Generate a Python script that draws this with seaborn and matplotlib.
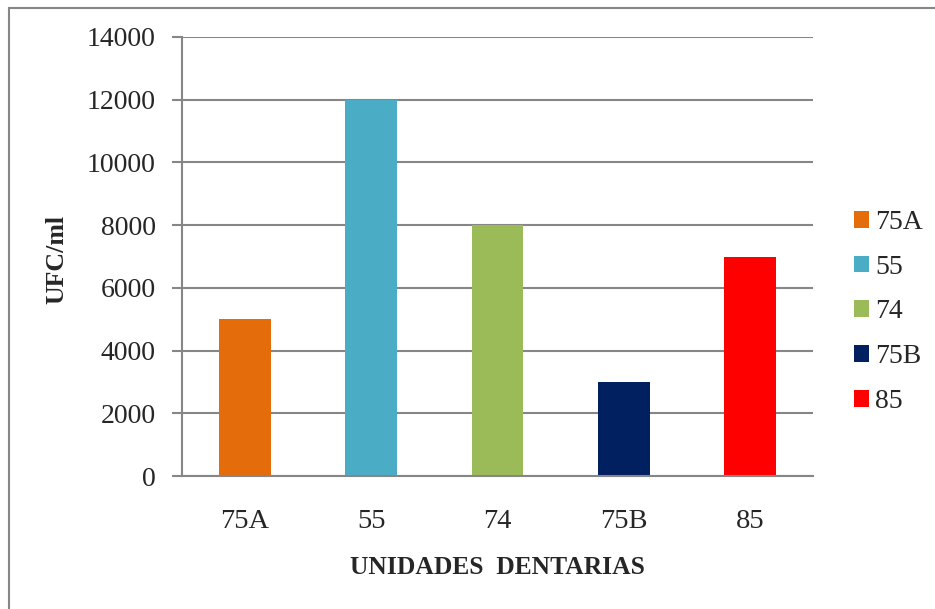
import matplotlib
matplotlib.use("Agg")
import matplotlib.pyplot as plt
import seaborn as sns
import pandas as pd
from matplotlib.patches import Rectangle, Patch

categories = ["75A", "55", "74", "75B", "85"]
values = [5000, 12000, 8000, 3000, 7000]
colors = ["#E46C0A", "#4BACC6", "#9BBB59", "#002060", "#FF0000"]
yticks = [0, 2000, 4000, 6000, 8000, 10000, 12000, 14000]

sns.set_theme(style="white")
plt.rcParams['font.family'] = ['Liberation Serif', 'DejaVu Serif']

df = pd.DataFrame({"cat": categories, "val": values})

fig = plt.figure(figsize=(9.35, 6.09), dpi=100)
ax = fig.add_axes([182/935, 1-476/609, (813-182)/935, (476-37)/609])

sns.barplot(data=df, x="cat", y="val", hue="cat", palette=colors,
            width=0.41, dodge=False, legend=False, ax=ax, saturation=1,
            edgecolor="none")

ax.set_ylim(0, 14000)
ax.set_xlim(-0.5, 4.5)
ax.set_yticks(yticks)
ax.set_yticklabels([str(v) for v in yticks], fontsize=20)
ax.tick_params(axis='x', labelsize=20.5, length=0, pad=24)
ax.tick_params(axis='y', length=7, width=1.5, color="#868686", pad=12, left=True)
ax.yaxis.grid(True, color="#868686", linewidth=1.5)
ax.set_axisbelow(True)
for s in ["top", "right"]:
    ax.spines[s].set_visible(False)
for s in ["left", "bottom"]:
    ax.spines[s].set_color("#868686")
    ax.spines[s].set_linewidth(1.5)

ax.set_xlabel("UNIDADES  DENTARIAS", fontsize=18.4, fontweight="bold")
ax.xaxis.set_label_coords((497-182)/631, (476-568)/439)
ax.xaxis.label.set_va("center")
ax.set_ylabel("UFC/ml", fontsize=18.6, fontweight="bold")
ax.yaxis.set_label_coords((57-182)/631, (476-259)/439)
ax.yaxis.label.set_va("center")

handles = [Patch(facecolor=c, edgecolor="none") for c in colors]
leg = fig.legend(handles, categories, loc="center left",
                 bbox_to_anchor=(840/935, 1-312/609), frameon=False,
                 fontsize=20, handlelength=0.56, handleheight=0.56,
                 handletextpad=0.2, labelspacing=0.71, borderpad=0)

fig.patches.append(Rectangle((9/935, -0.02), 1.05, 1.02-8/609, transform=fig.transFigure,
                             fill=False, edgecolor="#868686", linewidth=1.5))

fig.savefig("out.png", dpi=100)
